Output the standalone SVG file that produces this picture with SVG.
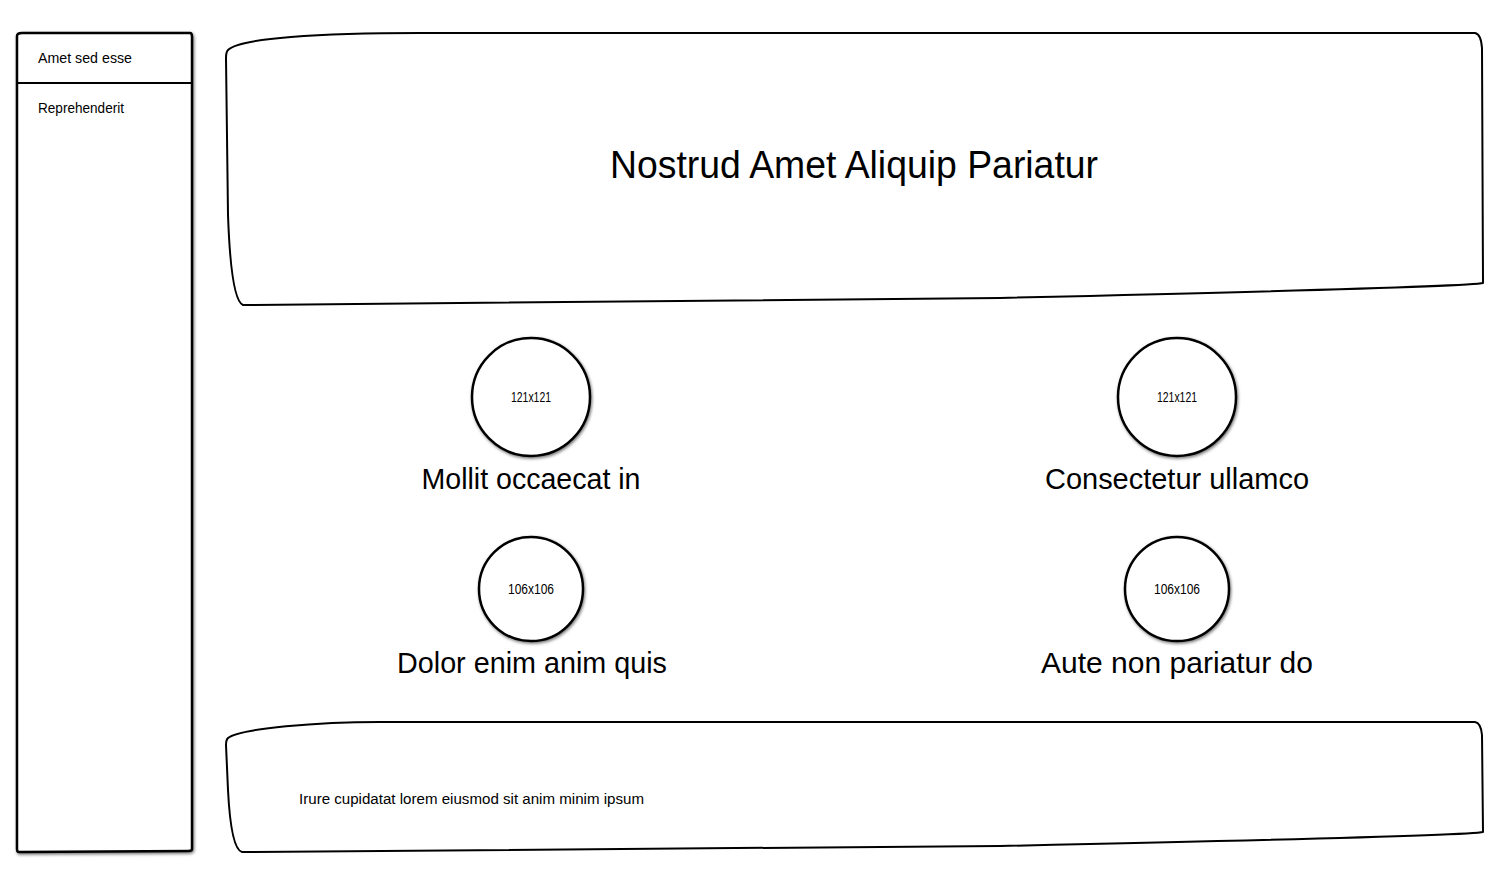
<svg xmlns="http://www.w3.org/2000/svg" width="1500" height="885" viewBox="0 0 1500 885">
  <style>
    .shape { fill: #ffffff; stroke: #000000; stroke-width: 2; stroke-linejoin: round; }
    .thick { stroke-width: 2.5; }
    .txt { font-family: "Liberation Sans", "DejaVu Sans", sans-serif; fill: #000000; }
    .big { font-size: 30px; text-anchor: middle; }
    .title { font-size: 38px; text-anchor: middle; }
    .small { font-size: 14px; }
    .tiny { font-size: 14px; text-anchor: middle; }
  </style>
  <defs>
    <filter id="shadow" x="-10%" y="-10%" width="120%" height="120%">
      <feDropShadow dx="1" dy="1.5" stdDeviation="1.5" flood-color="#000000" flood-opacity="0.55"/>
    </filter>
  </defs>
  <rect width="1500" height="885" fill="#ffffff"/>

  <g id="sidebar">
    <path class="shape thick" filter="url(#shadow)" d="M 17 36 Q 17 33 22 33 L 190 33 Q 192 33 192 37 L 192 849 Q 192 851 188 851 L 19 852 Q 17 852 17 849 Z"/>
    <line x1="17" y1="83" x2="192" y2="83" stroke="#000000" stroke-width="2"/>
    <text class="txt small" x="38" y="63" textLength="94" lengthAdjust="spacingAndGlyphs">Amet sed esse</text>
    <text class="txt small" x="38" y="113" textLength="86" lengthAdjust="spacingAndGlyphs">Reprehenderit</text>
  </g>

  <g id="header">
    <path class="shape" d="M 228 50 C 240 38, 320 33, 420 33 L 1475 33 Q 1481 34 1482 48 L 1483 283 Q 1470 287 1000 298 L 243 305 Q 231 300 228 215 L 226 58 Q 226 52 228 50 Z"/>
    <text class="txt title" x="854" y="178" textLength="488" lengthAdjust="spacingAndGlyphs">Nostrud Amet Aliquip Pariatur</text>
  </g>

  <g id="item1">
    <circle class="shape thick" filter="url(#shadow)" cx="531" cy="397" r="59"/>
    <text class="txt tiny" x="531" y="402" textLength="40" lengthAdjust="spacingAndGlyphs">121x121</text>
    <text class="txt big" x="531" y="489" textLength="219" lengthAdjust="spacingAndGlyphs">Mollit occaecat in</text>
  </g>

  <g id="item2">
    <circle class="shape thick" filter="url(#shadow)" cx="1177" cy="397" r="59"/>
    <text class="txt tiny" x="1177" y="402" textLength="40" lengthAdjust="spacingAndGlyphs">121x121</text>
    <text class="txt big" x="1177" y="489" textLength="264" lengthAdjust="spacingAndGlyphs">Consectetur ullamco</text>
  </g>

  <g id="item3">
    <circle class="shape thick" filter="url(#shadow)" cx="531" cy="589" r="52"/>
    <text class="txt tiny" x="531" y="594" textLength="46" lengthAdjust="spacingAndGlyphs">106x106</text>
    <text class="txt big" x="532" y="673" textLength="270" lengthAdjust="spacingAndGlyphs">Dolor enim anim quis</text>
  </g>

  <g id="item4">
    <circle class="shape thick" filter="url(#shadow)" cx="1177" cy="589" r="52"/>
    <text class="txt tiny" x="1177" y="594" textLength="46" lengthAdjust="spacingAndGlyphs">106x106</text>
    <text class="txt big" x="1177" y="673" textLength="272" lengthAdjust="spacingAndGlyphs">Aute non pariatur do</text>
  </g>

  <g id="footer">
    <path class="shape" d="M 228 738 C 240 728, 320 722, 380 722 L 1475 722 Q 1481 723 1482 735 L 1483 832 Q 1470 836 1000 846 L 242 852 Q 231 849 228 790 L 226 745 Q 226 740 228 738 Z"/>
    <text class="txt small" x="299" y="804" textLength="345" lengthAdjust="spacingAndGlyphs">Irure cupidatat lorem eiusmod sit anim minim ipsum</text>
  </g>

  <g id="connectors"></g>
</svg>
